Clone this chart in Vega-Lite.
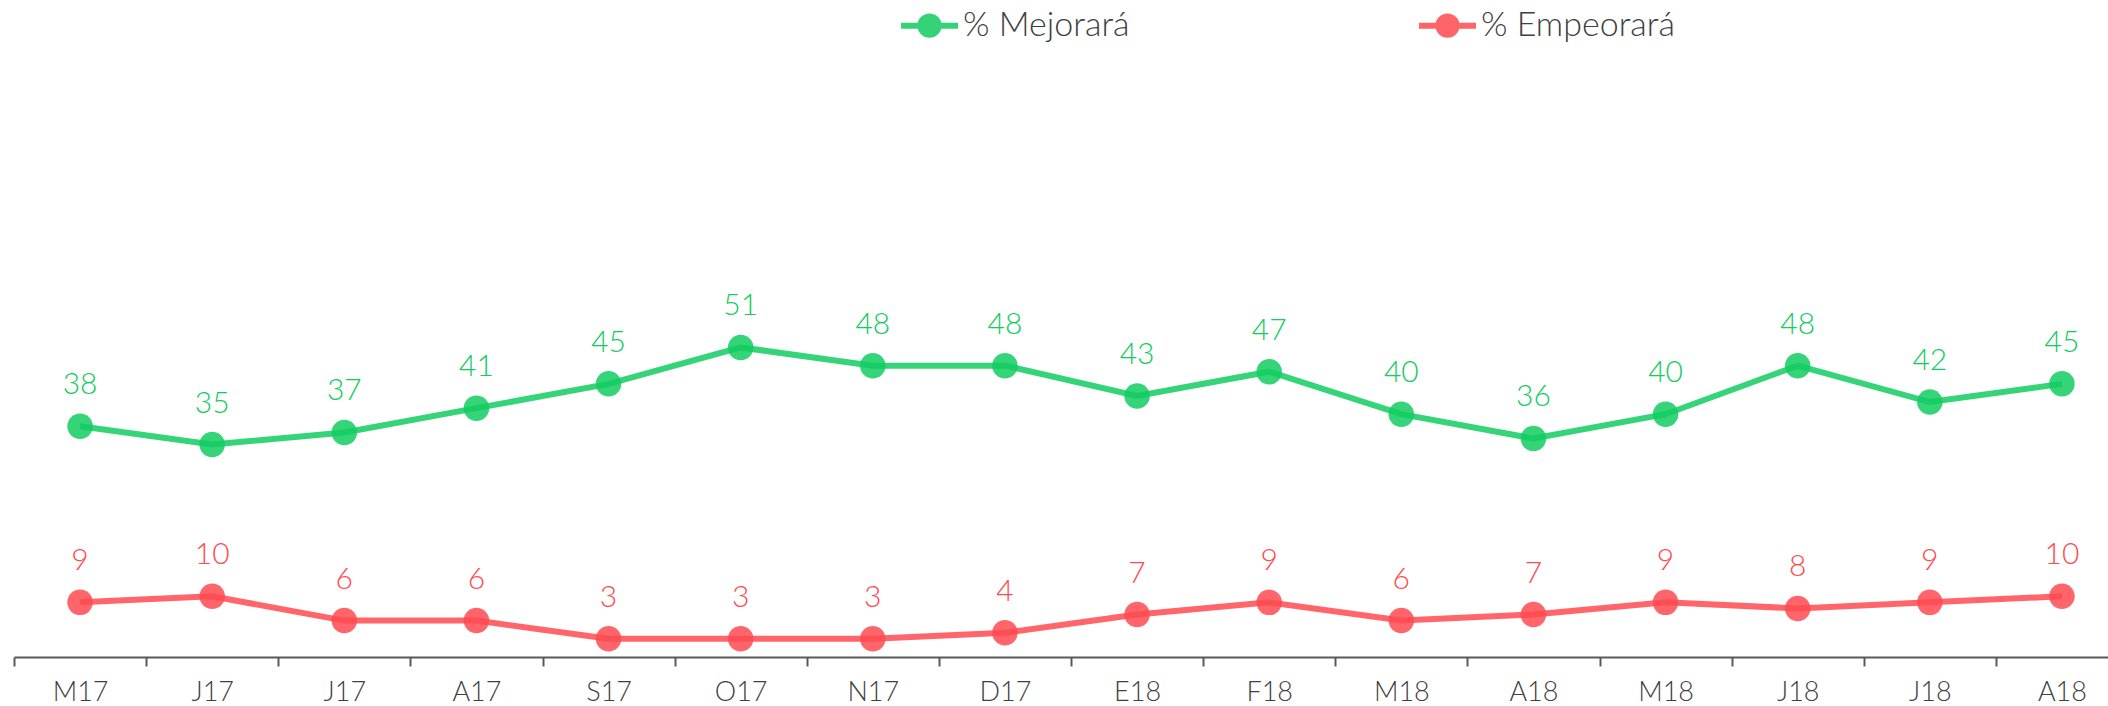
{
  "$schema": "https://vega.github.io/schema/vega-lite/v6.json",
  "autosize": "none",
  "width": 2094,
  "height": 607,
  "padding": {"left": 14, "top": 50, "right": 0, "bottom": 49},
  "background": "white",
  "config": {"view": {"stroke": null}, "font": "Lato"},
  "data": {"values": [
    {"mes": "M17", "serie": "% Mejorará", "valor": 38},
    {"mes": "J17", "serie": "% Mejorará", "valor": 35},
    {"mes": "J17b", "serie": "% Mejorará", "valor": 37},
    {"mes": "A17", "serie": "% Mejorará", "valor": 41},
    {"mes": "S17", "serie": "% Mejorará", "valor": 45},
    {"mes": "O17", "serie": "% Mejorará", "valor": 51},
    {"mes": "N17", "serie": "% Mejorará", "valor": 48},
    {"mes": "D17", "serie": "% Mejorará", "valor": 48},
    {"mes": "E18", "serie": "% Mejorará", "valor": 43},
    {"mes": "F18", "serie": "% Mejorará", "valor": 47},
    {"mes": "M18", "serie": "% Mejorará", "valor": 40},
    {"mes": "A18", "serie": "% Mejorará", "valor": 36},
    {"mes": "M18b", "serie": "% Mejorará", "valor": 40},
    {"mes": "J18", "serie": "% Mejorará", "valor": 48},
    {"mes": "J18b", "serie": "% Mejorará", "valor": 42},
    {"mes": "A18b", "serie": "% Mejorará", "valor": 45},
    {"mes": "M17", "serie": "% Empeorará", "valor": 9},
    {"mes": "J17", "serie": "% Empeorará", "valor": 10},
    {"mes": "J17b", "serie": "% Empeorará", "valor": 6},
    {"mes": "A17", "serie": "% Empeorará", "valor": 6},
    {"mes": "S17", "serie": "% Empeorará", "valor": 3},
    {"mes": "O17", "serie": "% Empeorará", "valor": 3},
    {"mes": "N17", "serie": "% Empeorará", "valor": 3},
    {"mes": "D17", "serie": "% Empeorará", "valor": 4},
    {"mes": "E18", "serie": "% Empeorará", "valor": 7},
    {"mes": "F18", "serie": "% Empeorará", "valor": 9},
    {"mes": "M18", "serie": "% Empeorará", "valor": 6},
    {"mes": "A18", "serie": "% Empeorará", "valor": 7},
    {"mes": "M18b", "serie": "% Empeorará", "valor": 9},
    {"mes": "J18", "serie": "% Empeorará", "valor": 8},
    {"mes": "J18b", "serie": "% Empeorará", "valor": 9},
    {"mes": "A18b", "serie": "% Empeorará", "valor": 10}
  ]},
  "encoding": {
    "x": {
      "field": "mes", "type": "nominal",
      "sort": ["M17","J17","J17b","A17","S17","O17","N17","D17","E18","F18","M18","A18","M18b","J18","J18b","A18b"],
      "scale": {"type": "band", "paddingInner": 0, "paddingOuter": 0, "range": [0, 2114]},
      "axis": {
        "title": null, "labelAngle": 0, "tickBand": "extent",
        "labelExpr": "isString(datum.value) ? substring(datum.value, 0, 3) : ''",
        "labelFont": "Lato", "labelFontSize": 27, "labelFontWeight": 300, "labelColor": "#404040",
        "labelPadding": 13, "tickSize": 9, "tickWidth": 2, "tickColor": "#595959",
        "domainColor": "#595959", "domainWidth": 2, "grid": false
      }
    },
    "y": {
      "field": "valor", "type": "quantitative",
      "scale": {"domain": [0, 100], "nice": false, "zero": true},
      "axis": null
    },
    "color": {
      "field": "serie", "type": "nominal",
      "scale": {"domain": ["% Mejorará", "% Empeorará"], "range": ["#12cc60", "#ff4a50"]},
      "legend": {
        "title": null, "orient": "none", "direction": "horizontal",
        "legendX": 884, "legendY": -56,
        "symbolType": "M-1,0H1M-0.32,0A0.32,0.32 0 1 1 0.32,0A0.32,0.32 0 1 1 -0.32,0Z",
        "symbolSize": 3249, "symbolStrokeWidth": 6, "symbolOpacity": 0.85,
        "labelFont": "Lato", "labelFontSize": 34, "labelFontWeight": 300, "labelColor": "#404040",
        "labelOffset": 2, "labelLimit": 400, "columnPadding": 277,
        "encode": {"symbols": {"update": {
          "fill": {"scale": "color", "field": "value"},
          "stroke": {"scale": "color", "field": "value"}
        }}}
      }
    }
  },
  "layer": [
    {"mark": {"type": "line", "strokeWidth": 6, "opacity": 0.85}},
    {"mark": {"type": "point", "filled": true, "size": 650, "opacity": 0.85}},
    {
      "mark": {"type": "text", "dy": -32, "baseline": "alphabetic", "fontSize": 30, "fontWeight": 300, "font": "Lato"},
      "encoding": {"text": {"field": "valor", "type": "quantitative"}, "color": {"field": "serie", "type": "nominal", "legend": null}}
    }
  ]
}
